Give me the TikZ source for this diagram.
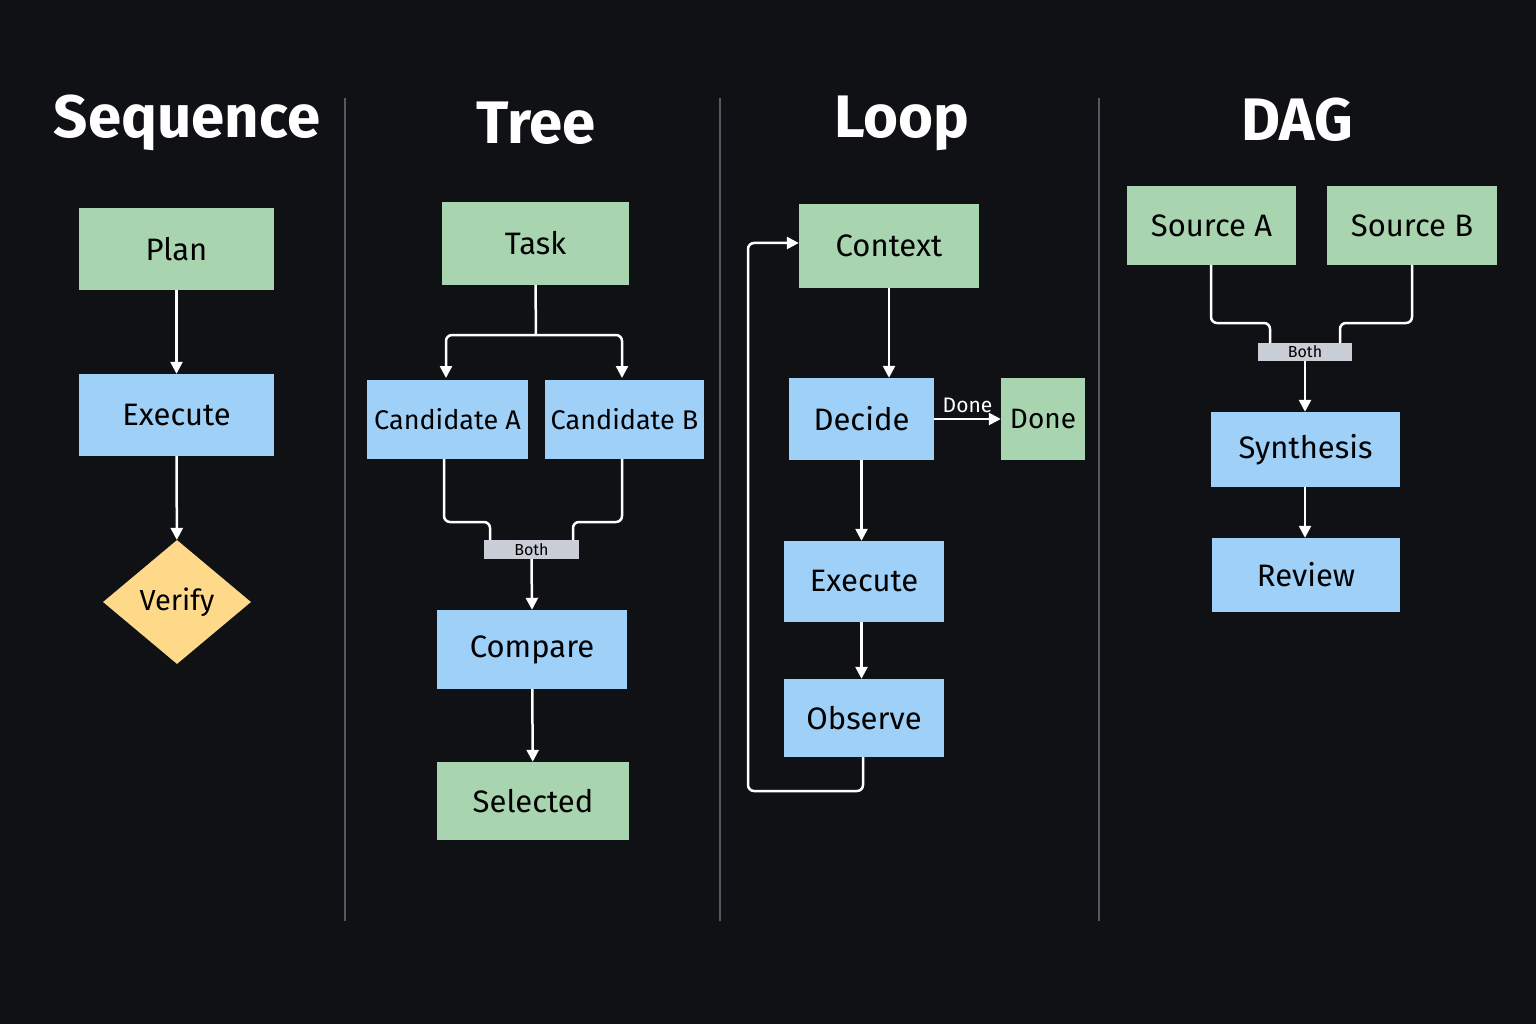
\documentclass[tikz,border=0pt]{standalone}
\usepackage{fontspec}
\setmainfont{Fira Sans}
\usetikzlibrary{shapes.geometric,arrows.meta}
\definecolor{bg}{HTML}{0F1114}
\definecolor{gbox}{HTML}{A8D5B0}
\definecolor{bbox}{HTML}{9FD0F8}
\definecolor{ybox}{HTML}{FFD98A}
\definecolor{lbl}{HTML}{C9CDD5}
\definecolor{div}{HTML}{55595F}
\tikzset{
 box/.style={draw=none,minimum width=#1,inner sep=0pt,text=black,font=\fontsize{31}{31}\selectfont},
 g/.style={box=#1,fill=gbox},
 b/.style={box=#1,fill=bbox},
 lab/.style={fill=lbl,text=black,inner sep=0pt,font=\fontsize{16}{16}\selectfont},
 title/.style={text=white,font=\bfseries\fontsize{60}{60}\selectfont},
 con/.style={draw=white,line width=2.5pt,rounded corners=6pt},
 arr/.style={con,-{Triangle[width=12pt,length=12pt]}},
}
\begin{document}
\begin{tikzpicture}[x=1pt,y=-1pt]
\fill[bg] (0,0) rectangle (1536,1024);
\useasboundingbox (0,0) rectangle (1536,1024);
\foreach \x in {345,720,1099} \draw[div,line width=2pt] (\x,98) -- (\x,921);
\node[title] (t1) at (187,123) {Sequence};
\node[title] (t2) at (536,123) {Tree};
\node[title] (t3) at (902,123) {Loop};
\node[title] (t4) at (1297,120) {DAG};
% Sequence
\node[g=195pt,minimum height=82pt] (plan) at (176.5,249) {Plan};
\node[b=195pt,minimum height=82pt] (exe1) at (176.5,415) {Execute};
\node[diamond,fill=ybox,minimum width=148pt,minimum height=124pt,inner sep=0pt,font=\fontsize{29}{29}\selectfont] (ver) at (177,602) {Verify};
\draw[arr] (plan) -- (exe1);
\draw[arr] (exe1) -- (ver);
% Tree
\node[g=187pt,minimum height=83pt] (task) at (535.5,243.5) {Task};
\node[b=161pt,minimum height=79pt,font=\fontsize{27}{27}\selectfont] (ca) at (447.5,419.5) {Candidate A};
\node[b=159pt,minimum height=79pt,font=\fontsize{27}{27}\selectfont] (cb) at (624.5,419.5) {Candidate B};
\node[lab,minimum width=95pt,minimum height=19pt] (both1) at (531.5,549.5) {Both};
\node[b=190pt,minimum height=79pt] (cmp) at (532,649.5) {Compare};
\node[g=192pt,minimum height=78pt] (sel) at (533,801) {Selected};
\coordinate (tj) at (536,335);
\draw[con] (task.south) -- (tj);
\draw[arr] (tj) -| (446,378);
\draw[arr] (tj) -| (622,378);
\draw[con] (444,459) |- (490,522) -- (490,540);
\draw[con] (622,459) |- (573,522) -- (573,540);
\draw[arr] (both1.south) -- (cmp.north);
\draw[arr] (cmp) -- (sel);
% Loop
\node[g=180pt,minimum height=84pt] (ctx) at (889,246) {Context};
\node[b=145pt,minimum height=82pt] (dec) at (861.5,419) {Decide};
\node[g=84pt,minimum height=82pt,font=\fontsize{28}{28}\selectfont] (done) at (1043,419) {Done};
\node[b=160pt,minimum height=81pt] (exe2) at (864,581.5) {Execute};
\node[b=160pt,minimum height=78pt] (obs) at (864,718) {Observe};
\draw[arr] (ctx.south) -- (dec.north -| ctx.south);
\draw[arr] (dec) -- node[above,text=white,font=\fontsize{21}{21}\selectfont,yshift=2pt]{Done} (done);
\draw[arr] (dec.south) -- (dec.south |- exe2.north);
\draw[arr] (exe2.south -| dec.south) -- (obs.north -| dec.south);
\draw[arr] (863,757) -- (863,791) -- (748,791) -- (748,243) -- (ctx.west |- 0,243);
% DAG
\node[g=169pt,minimum height=79pt] (sa) at (1211.5,225.5) {Source A};
\node[g=170pt,minimum height=79pt] (sb) at (1412,225.5) {Source B};
\node[lab,minimum width=94pt,minimum height=18pt] (both2) at (1305,352) {Both};
\node[b=189pt,minimum height=75pt] (syn) at (1305.5,449.5) {Synthesis};
\node[b=188pt,minimum height=74pt] (rev) at (1306,575) {Review};
\draw[con] (1211,265) |- (1270,323) -- (1270,343);
\draw[con] (1412,265) |- (1340,323) -- (1340,343);
\draw[arr] (both2.south) -- (syn.north -| both2.south);
\draw[arr] (syn.south -| both2.south) -- (rev.north -| both2.south);
\end{tikzpicture}
\end{document}
